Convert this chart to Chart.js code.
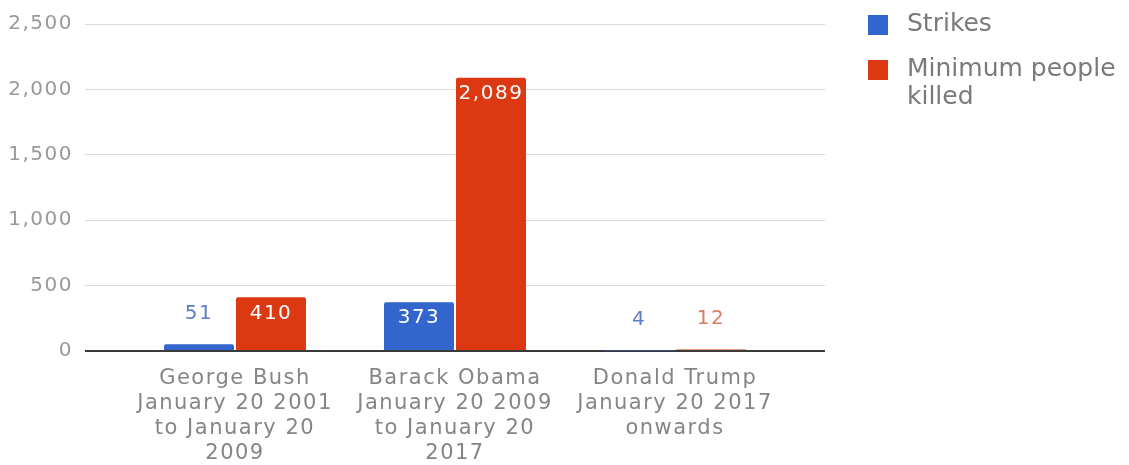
<!DOCTYPE html>
<html>
<head>
<meta charset="utf-8">
<title>Drone strikes by presidency</title>
<script src="https://cdn.jsdelivr.net/npm/chart.js@4.4.1/dist/chart.umd.min.js"></script>
<style>
    html, body { margin: 0; padding: 0; background: #fff; }
    #wrap { width: 1129px; height: 465px; }
</style>
</head>
<body>
<div id="wrap"><canvas id="strikes-chart" width="1129" height="465"></canvas></div>
<script>
// Presidencies on the x axis (one entry per label line)
const presidencies = [
    ['George Bush', 'January 20 2001', 'to January 20', '2009'],
    ['Barack Obama', 'January 20 2009', 'to January 20', '2017'],
    ['Donald Trump', 'January 20 2017', 'onwards']
];
const strikes = [51, 373, 4];
const minKilled = [410, 2089, 12];
const seriesNames = ['Strikes', ['Minimum people', 'killed']];
const seriesColors = ['#3366cc', '#dc3912'];
const valueColors = ['#5b7fc7', '#de7a62'];
const yTicks = [0, 500, 1000, 1500, 2000, 2500];

const FONT = 'DejaVu Sans';
Chart.defaults.font.family = FONT;

// zero line is the dark baseline, everything else light grey
const gridColor = ctx => (ctx.tick && ctx.tick.value === 0) ? '#3a3a3a' : '#d9d9d9';
const gridWidth = ctx => (ctx.tick && ctx.tick.value === 0) ? 2 : 1;

// slightly looser lettering for axis and bar text
const wideText = {
    id: 'wideText',
    beforeDraw(chart) {
        chart.ctx.letterSpacing = '1.5px';
    }
};

// Numbers on the bars: inside in white when the bar is tall enough, above it otherwise
const valueLabels = {
    id: 'valueLabels',
    afterDatasetsDraw(chart) {
        const ctx = chart.ctx;
        ctx.save();
        ctx.font = '20px "' + FONT + '"';
        ctx.textAlign = 'center';
        ctx.textBaseline = 'middle';
        chart.data.datasets.forEach((ds, i) => {
            const meta = chart.getDatasetMeta(i);
            meta.data.forEach((bar, j) => {
                const text = ds.data[j].toLocaleString('en-US');
                const inside = (bar.base - bar.y) > 40;
                ctx.fillStyle = inside ? '#ffffff' : valueColors[i];
                ctx.fillText(text, bar.x, inside ? bar.y + 16 : bar.y - 31);
            });
        });
        ctx.restore();
    }
};

// Legend on the right, with a wrapped second entry
const sideLegend = {
    id: 'sideLegend',
    afterDraw(chart) {
        const ctx = chart.ctx;
        ctx.save();
        ctx.letterSpacing = '0px';
        ctx.font = '25px "' + FONT + '"';
        ctx.textAlign = 'left';
        ctx.textBaseline = 'middle';
        let top = 14;
        chart.data.datasets.forEach(ds => {
            ctx.fillStyle = ds.backgroundColor;
            ctx.fillRect(868, top + 1, 20, 20);
            ctx.fillStyle = '#7a7a7a';
            [].concat(ds.label).forEach((line, k) => {
                ctx.fillText(line, 907, top + 10 + k * 28);
            });
            top += 45;
        });
        ctx.restore();
    }
};

const yRange = {
    min: yTicks[0],
    max: yTicks[yTicks.length - 1],
    step: yTicks[1] - yTicks[0]
};

new Chart(document.getElementById('strikes-chart'), {
    type: 'bar',
    data: {
        labels: presidencies,
        datasets: [
            { label: seriesNames[0], data: strikes, backgroundColor: seriesColors[0] },
            { label: seriesNames[1], data: minKilled, backgroundColor: seriesColors[1] }
        ]
    },
    options: {
        responsive: false,
        animation: false,
        layout: { padding: { top: 23, left: 0, right: 0, bottom: 0 } },
        datasets: {
            bar: {
                categoryPercentage: 0.6545,
                barPercentage: 0.972,
                borderRadius: 2
            }
        },
        plugins: {
            legend: { display: false },
            tooltip: { enabled: false }
        },
        scales: {
            x: {
                grid: { display: false, drawTicks: false },
                border: { display: false },
                ticks: {
                    autoSkip: false,
                    maxRotation: 0,
                    padding: 15,
                    color: '#858585',
                    font: { size: 21, lineHeight: 1.19 }
                },
                afterFit: scale => { scale.height = 114; }
            },
            y: {
                min: yRange.min,
                max: yRange.max,
                ticks: {
                    stepSize: yRange.step,
                    padding: 12,
                    color: '#999999',
                    font: { size: 20 }
                },
                grid: {
                    color: gridColor,
                    tickColor: gridColor,
                    lineWidth: gridWidth,
                    tickWidth: gridWidth,
                    tickLength: 40
                },
                border: { display: false },
                afterFit: scale => { scale.width = 125; }
            },
            yRight: {
                position: 'right',
                min: yRange.min,
                max: yRange.max,
                ticks: { display: false, stepSize: yRange.step },
                grid: {
                    drawOnChartArea: false,
                    color: gridColor,
                    tickColor: gridColor,
                    lineWidth: gridWidth,
                    tickWidth: gridWidth,
                    tickLength: 40
                },
                border: { display: false },
                afterFit: scale => { scale.width = 344; }
            }
        }
    },
    plugins: [wideText, valueLabels, sideLegend]
});
</script>
</body>
</html>
